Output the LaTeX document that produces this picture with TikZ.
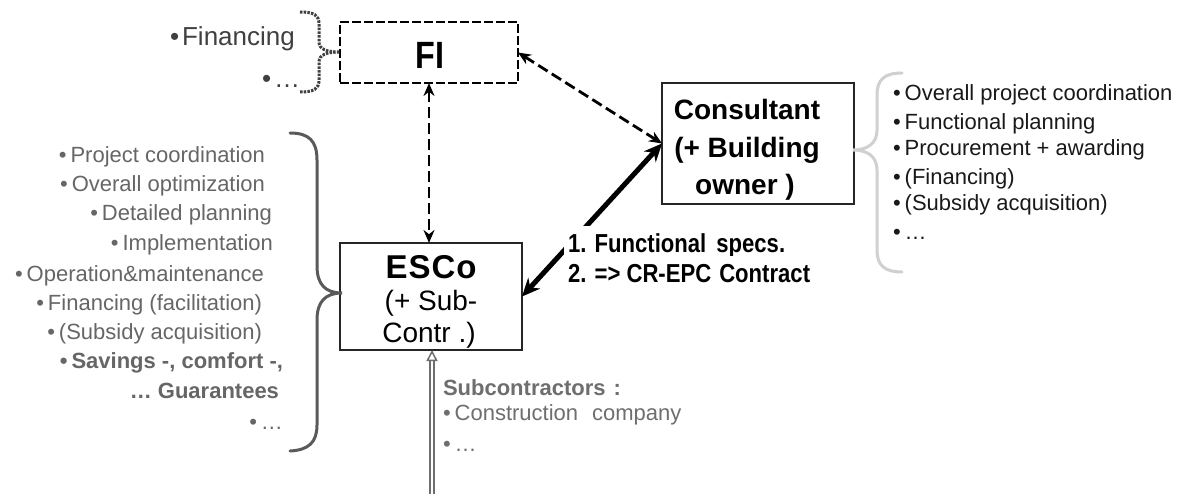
\documentclass[tikz,border=0pt]{standalone}
\usepackage{fontspec}
\setmainfont{Liberation Sans}
\newfontfamily\narrowfont[FakeStretch=0.85]{Liberation Sans}
\usetikzlibrary{arrows.meta}
\definecolor{listgray}{HTML}{666666}
\definecolor{bracedark}{HTML}{5A5A5A}
\definecolor{bracelight}{HTML}{D0D0D0}
\definecolor{subgray}{HTML}{6E6E6E}
\begin{document}
\begin{tikzpicture}[x=1pt,y=-1pt,
  every node/.style={inner sep=0pt,outer sep=0pt},
  boxshape/.style={draw=black!85,line width=1.2pt,fill=none},
  fibox/.style={draw=black,line width=2pt,dash pattern=on 9pt off 3pt},
  listtxt/.style={font=\fontsize{22}{26}\selectfont,text=listgray},
  righttxt/.style={font=\fontsize{22}{26}\selectfont,text=black!90},
  subtxt/.style={font=\fontsize{22}{26}\selectfont,text=subgray},
  lbltxt/.style={font=\narrowfont\bfseries\fontsize{26}{30}\selectfont,
     fill=white,inner xsep=4pt,inner ysep=2pt,text height=24pt,text depth=6pt},
  dasharrow/.style={draw=black,line width=2.8pt,dash pattern=on 11pt off 5pt,
     {Stealth[length=13pt,width=11pt]}-{Stealth[length=13pt,width=11pt]}},
  solidarrow/.style={draw=black,line width=5pt,
     {Stealth[length=18pt,width=16pt]}-{Stealth[length=18pt,width=16pt]}},
  subarrow/.style={draw=subgray,double=white,double distance=2.4pt,line width=1.5pt,
     -{Triangle[open,length=11pt,width=11pt]}},
  bigbrace/.style={draw=bracedark,line width=3pt,line cap=round},
  lightbrace/.style={draw=bracelight,line width=3pt,line cap=round},
  dotbrace/.style={draw=black!75,line width=3pt,dash pattern=on 2.5pt off 1.2pt}
]
\useasboundingbox[fill=white] (0,0) rectangle (1177,494);

% boxes
\node[fibox,minimum width=178pt,minimum height=61pt] (fi) at (429,52.5) {};
\node[boxshape,minimum width=192pt,minimum height=121pt] (cons) at (758,143.5) {};
\node[boxshape,minimum width=182pt,minimum height=107pt] (esco) at (431,296.5) {};

% box texts
\node[anchor=base,font=\narrowfont\bfseries\fontsize{38}{42}\selectfont] (fitxt) at (430,69) {FI};
\node[anchor=base,font=\bfseries\fontsize{28}{32}\selectfont] (cons1) at (747,120) {Consultant};
\node[anchor=base,font=\bfseries\fontsize{28}{32}\selectfont] (cons2) at (747,158) {(+ Building};
\node[anchor=base,font=\bfseries\fontsize{28}{32}\selectfont] (cons3) at (745,195) {owner )};
\node[anchor=base,font=\bfseries\fontsize{33}{36}\selectfont] (esco1) at (431,278.5) {E\kern1ptS\kern1ptC\kern1pto};
\node[anchor=base,font=\fontsize{28}{32}\selectfont] (esco2) at (431,310) {(+ Sub-};
\node[anchor=base,font=\fontsize{28}{32}\selectfont] (esco3) at (429,342) {Contr .)};

% FI side text and brace
\node[anchor=base west,font=\fontsize{26}{30}\selectfont,text=black!75] (fin1) at (170,46) {•\hspace{3pt}Financing};
\node[anchor=base west,font=\fontsize{26}{30}\selectfont,text=black!75] (fin2) at (262,88) {•\hspace{3pt}…};
\draw[dotbrace] (300,12) .. controls (314,12) and (319,15) .. (319,24) -- (319,42)
  .. controls (319,49) and (326,52) .. (340,52)
  .. controls (326,52) and (319,55) .. (319,62) -- (319,80)
  .. controls (319,89) and (314,92) .. (300,92);

% left list
\node[listtxt,anchor=base east] (l1) at (265,163) {•\hspace{4pt}Project coordination};
\node[listtxt,anchor=base east] (l2) at (265,192) {•\hspace{4pt}Overall optimization};
\node[listtxt,anchor=base east] (l3) at (272,221) {•\hspace{4pt}Detailed planning};
\node[listtxt,anchor=base east] (l4) at (273,251) {•\hspace{4pt}Implementation};
\node[listtxt,anchor=base east] (l5) at (264,281) {•\hspace{4pt}Operation\&maintenance};
\node[listtxt,anchor=base east] (l6) at (262,310) {•\hspace{4pt}Financing (facilitation)};
\node[listtxt,anchor=base east] (l7) at (262,339) {•\hspace{4pt}(Subsidy acquisition)};
\node[listtxt,anchor=base east,font=\bfseries\fontsize{22}{26}\selectfont] (l8) at (283,368) {•\hspace{4pt}Savings -, comfort -,};
\node[listtxt,anchor=base east,font=\bfseries\fontsize{22}{26}\selectfont] (l9) at (279,398) {…\hspace{6pt}Guarantees};
\node[listtxt,anchor=base east] (l10) at (283,429) {•\hspace{4pt}…};
\draw[bigbrace] (290,133) .. controls (309,133) and (317,141) .. (317,160) -- (317,266)
  .. controls (317,284) and (325,293) .. (342,293)
  .. controls (325,293) and (317,302) .. (317,320) -- (317,425)
  .. controls (317,442) and (309,450) .. (290,451);

% right list
\draw[lightbrace] (902,73) .. controls (884,73) and (877,80) .. (877,95) -- (877,130)
  .. controls (877,143) and (868,150) .. (853,150)
  .. controls (868,150) and (877,157) .. (877,170) -- (877,250)
  .. controls (877,265) and (884,272) .. (902,272);
\node[righttxt,anchor=base west] (r1) at (893,101) {•\hspace{4pt}Overall project coordination};
\node[righttxt,anchor=base west] (r2) at (893,130) {•\hspace{4pt}Functional planning};
\node[righttxt,anchor=base west] (r3) at (893,156) {•\hspace{4pt}Procurement + awarding};
\node[righttxt,anchor=base west] (r4) at (893,185) {•\hspace{4pt}(Financing)};
\node[righttxt,anchor=base west] (r5) at (893,211) {•\hspace{4pt}(Subsidy acquisition)};
\node[righttxt,anchor=base west] (r6) at (893,240) {•\hspace{4pt}…};

% subcontractors
\node[subtxt,anchor=base west,font=\bfseries\fontsize{22}{26}\selectfont] (s1) at (443,395) {Subcontractors\hspace{8pt}:};
\node[subtxt,anchor=base west] (s2) at (443,420) {•\hspace{4pt}Construction\hspace{14pt}company};
\node[subtxt,anchor=base west] (s3) at (443,451) {•\hspace{4pt}…};

% connectors
\draw[dasharrow] (fi.south) -- (fi.south |- esco.north);
\draw[dasharrow] (fi.east) -- (cons.west);
\draw[solidarrow] (esco.east) -- (cons.west);
\coordinate (subbot) at (432,494);
\draw[subarrow] (subbot) -- (subbot |- esco.south);

% contract labels (white background hides the arrow behind them)
\node[lbltxt,anchor=base west] (c1) at (564,252) {1. Functional\hspace{10pt}specs.};
\node[lbltxt,anchor=base west] (c2) at (564,282) {2. => CR-EPC\hspace{8pt}Contract};
\end{tikzpicture}
\end{document}
